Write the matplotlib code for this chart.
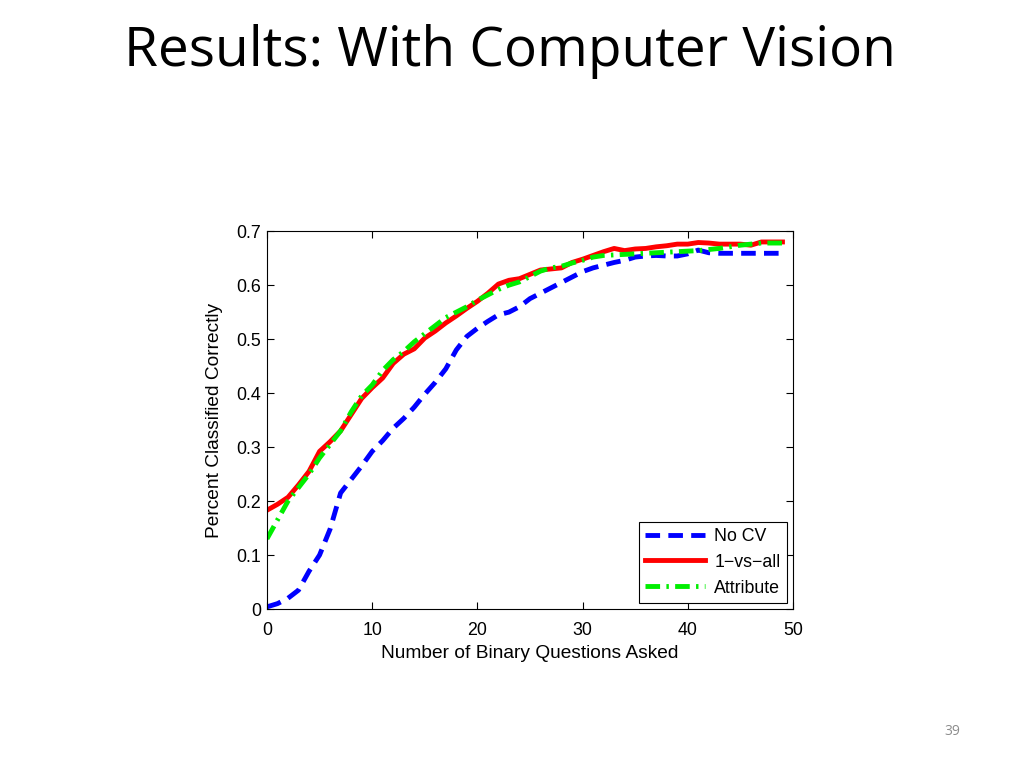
import matplotlib
matplotlib.use('Agg')
import matplotlib.pyplot as plt
import numpy as np

# Data
questions = np.arange(50)

no_cv = [0.004, 0.010, 0.020, 0.035, 0.070, 0.100, 0.148, 0.215, 0.240, 0.265,
         0.292, 0.312, 0.335, 0.353, 0.374, 0.398, 0.420, 0.445, 0.480, 0.505,
         0.520, 0.533, 0.545, 0.550, 0.560, 0.575, 0.585, 0.595, 0.605, 0.615,
         0.625, 0.632, 0.637, 0.642, 0.646, 0.652, 0.654, 0.655, 0.654, 0.654,
         0.658, 0.665, 0.660, 0.659, 0.659, 0.659, 0.659, 0.659, 0.659, 0.659]

one_vs_all = [0.183, 0.194, 0.207, 0.230, 0.255, 0.292, 0.310, 0.330, 0.360, 0.390,
              0.410, 0.428, 0.455, 0.472, 0.482, 0.502, 0.515, 0.530, 0.543, 0.557,
              0.570, 0.585, 0.602, 0.609, 0.612, 0.620, 0.628, 0.630, 0.632, 0.642,
              0.648, 0.655, 0.662, 0.668, 0.664, 0.667, 0.668, 0.671, 0.673, 0.676,
              0.676, 0.679, 0.678, 0.676, 0.676, 0.676, 0.674, 0.680, 0.680, 0.680]

attribute = [0.130, 0.165, 0.200, 0.225, 0.250, 0.280, 0.305, 0.330, 0.365, 0.395,
             0.415, 0.442, 0.462, 0.477, 0.495, 0.510, 0.525, 0.540, 0.550, 0.560,
             0.572, 0.582, 0.592, 0.600, 0.606, 0.616, 0.626, 0.632, 0.635, 0.641,
             0.646, 0.652, 0.655, 0.656, 0.657, 0.658, 0.659, 0.660, 0.661, 0.662,
             0.663, 0.664, 0.666, 0.668, 0.671, 0.674, 0.676, 0.678, 0.678, 0.678]

fig = plt.figure(figsize=(10.24, 7.68), dpi=100)
fig.text(0.498, 0.933, 'Results: With Computer Vision', ha='center', va='center',
         fontsize=39.5, family='Open Sans')
fig.text(0.93, 0.047, '39', ha='center', va='center', fontsize=10,
         color='#8c8c8c', family='Open Sans')

ax = fig.add_axes([0.2607, 0.207, 0.5137, 0.492])
ax.plot(questions, no_cv, color='#0000ff', linestyle=(0, (3.0, 1.7)), linewidth=3.5, label='No CV')
ax.plot(questions, one_vs_all, color='#ff0000', linestyle='-', linewidth=3.5, label='1\u2212vs\u2212all')
ax.plot(questions, attribute, color='#00ee00', linestyle=(0, (3.0, 1.3, 0.5, 1.3)), linewidth=3.5, label='Attribute')

ax.set_xlim(0, 50)
ax.set_ylim(0, 0.7)
ax.set_xticks([0, 10, 20, 30, 40, 50])
ax.set_yticks(np.arange(0, 0.71, 0.1))
ax.set_yticklabels(['0', '0.1', '0.2', '0.3', '0.4', '0.5', '0.6', '0.7'])
ax.tick_params(direction='in', top=True, right=True, labelsize=12.8, length=5)
ax.tick_params(axis='x', pad=9)
ax.tick_params(axis='y', pad=4)
for lab in ax.get_xticklabels() + ax.get_yticklabels():
    lab.set_family('Liberation Sans')
ax.set_xlabel('Number of Binary Questions Asked', fontsize=13.8, family='Liberation Sans', labelpad=5)
ax.set_ylabel('Percent Classified Correctly', fontsize=13.8, family='Liberation Sans', labelpad=10)

leg = ax.legend(loc='lower right', fancybox=False, edgecolor='black', framealpha=1,
                prop={'family': 'Liberation Sans', 'size': 12.8}, handlelength=3.4,
                borderaxespad=0.35, labelspacing=0.5, borderpad=0.35, handletextpad=0.5)
leg.get_frame().set_linewidth(0.8)

fig.savefig('out.png', dpi=100)
